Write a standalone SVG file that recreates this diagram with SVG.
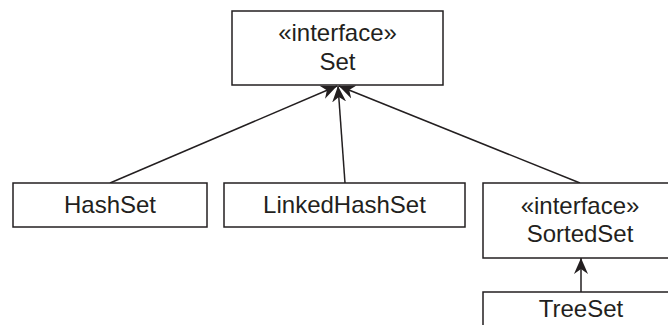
<svg xmlns="http://www.w3.org/2000/svg" width="668" height="325" viewBox="0 0 668 325">
<style>
.box{fill:#fff;stroke:#231f20;stroke-width:1.5}
.t{font-family:"Liberation Sans",Arial,sans-serif;font-size:24px;fill:#231f20;text-anchor:middle}
.c{stroke:#231f20;stroke-width:1.5;fill:none;marker-end:url(#ah)}
</style>
<defs>
<marker id="ah" markerUnits="userSpaceOnUse" viewBox="-16 -8 17 16" refX="0" refY="0" markerWidth="17" markerHeight="16" orient="auto">
<path d="M0,0 L-16,-7 L-11,0 L-16,7 Z" fill="#231f20"/>
</marker>
</defs>
<rect width="668" height="325" fill="#fff"/>
<g id="connectors">
<line class="c" x1="110" y1="183" x2="337" y2="86"/>
<line class="c" x1="345" y1="183" x2="338" y2="86"/>
<line class="c" x1="580" y1="183" x2="339" y2="86"/>
<line class="c" x1="581" y1="292" x2="581" y2="258"/>
</g>
<g id="set">
<rect class="box" x="232" y="11" width="211" height="74"/>
<text class="t" x="337.5" y="41">«interface»</text>
<text class="t" x="337.5" y="70">Set</text>
</g>
<g id="hashset">
<rect class="box" x="13" y="183" width="194" height="44"/>
<text class="t" x="110" y="213">HashSet</text>
</g>
<g id="linkedhashset">
<rect class="box" x="224" y="183" width="241" height="44"/>
<text class="t" x="344.5" y="213">LinkedHashSet</text>
</g>
<g id="sortedset">
<rect class="box" x="483" y="183" width="200" height="75"/>
<text class="t" x="580" y="214">«interface»</text>
<text class="t" x="580" y="242">SortedSet</text>
</g>
<g id="treeset">
<rect class="box" x="483" y="292" width="200" height="50"/>
<text class="t" x="581" y="317">TreeSet</text>
</g>
</svg>
